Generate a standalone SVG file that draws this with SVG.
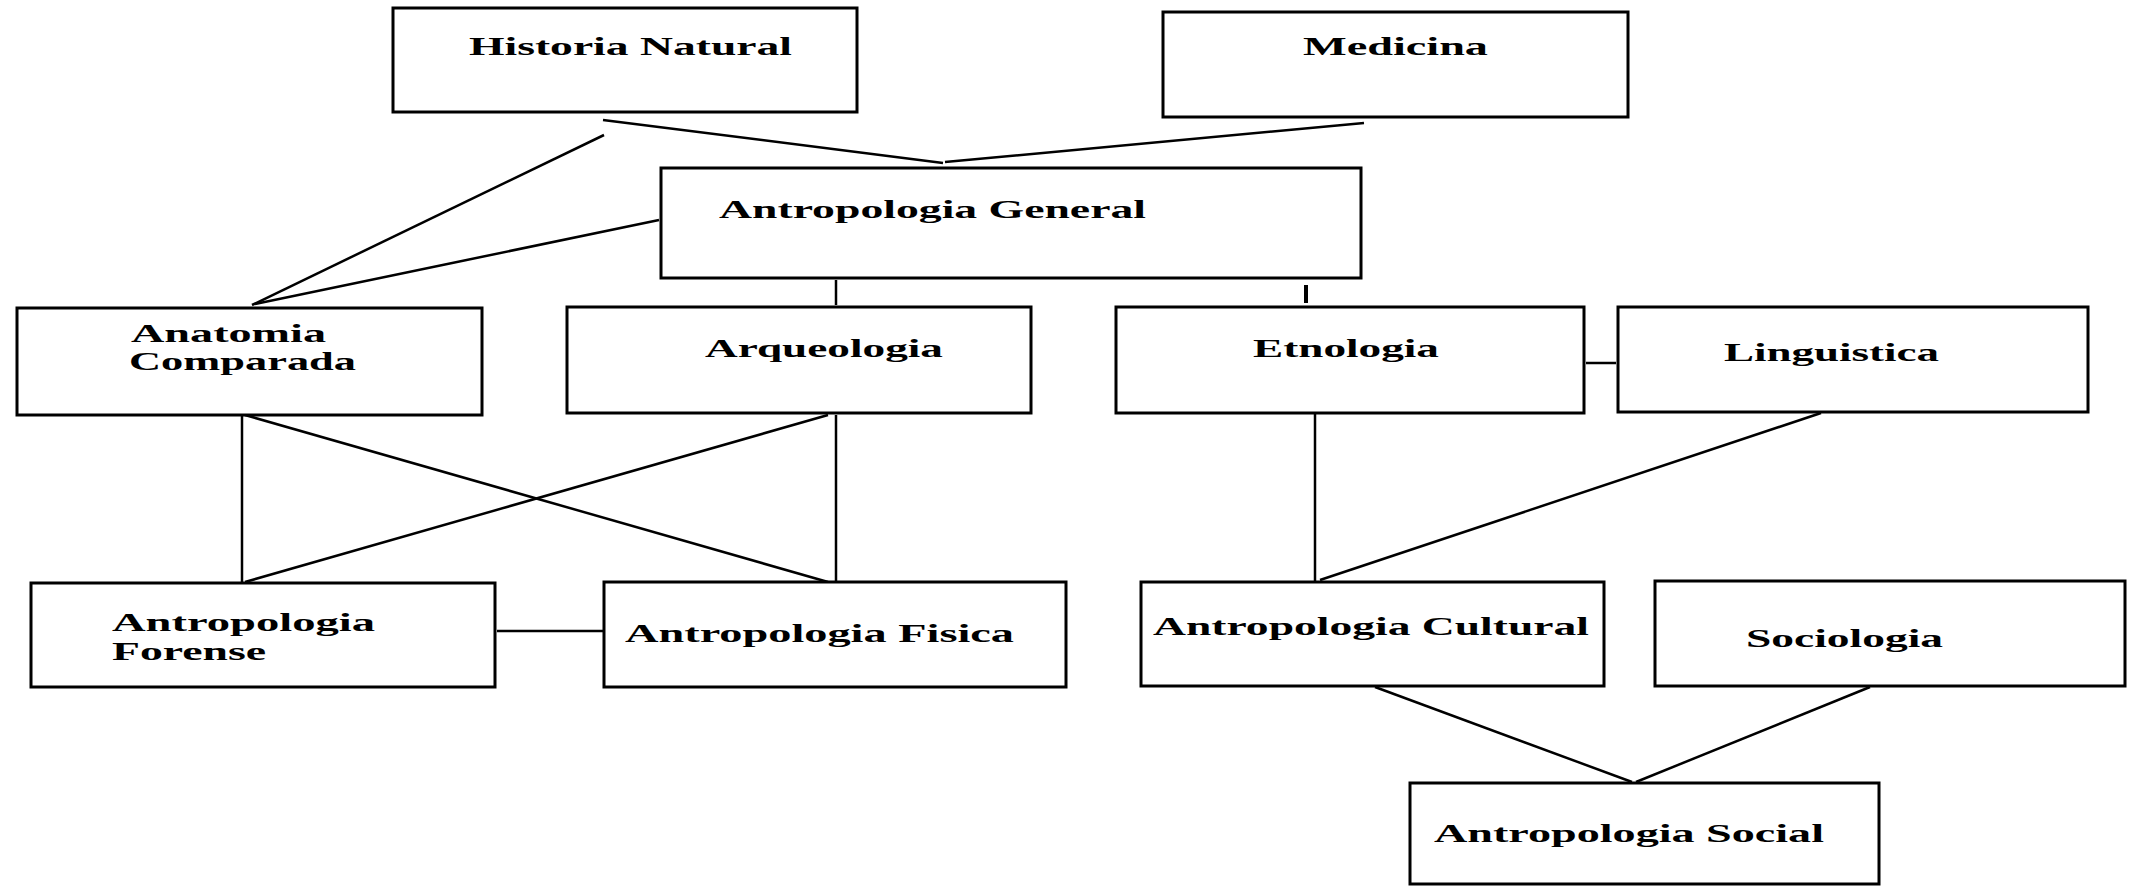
<svg xmlns="http://www.w3.org/2000/svg" width="2136" height="887" viewBox="0 0 2136 887">
<style>
.box{fill:#fff;stroke:#000;stroke-width:3}
.lbl{font-family:"Liberation Serif","Times New Roman",serif;font-size:26px;font-weight:bold;fill:#000}
.con line{stroke:#000;stroke-width:2.5;stroke-linecap:butt}
</style>
<rect width="2136" height="887" fill="#fff"/>
<g class="con" id="connectors">
<line x1="604" y1="135" x2="252" y2="305"/>
<line x1="603" y1="120" x2="943" y2="163"/>
<line x1="1364" y1="123" x2="945" y2="162"/>
<line x1="659" y1="220" x2="255" y2="304"/>
<line x1="836" y1="280" x2="836" y2="305"/>
<line x1="1306" y1="285" x2="1306" y2="303" style="stroke-width:4"/>
<line x1="1586" y1="363" x2="1616" y2="363"/>
<line x1="242" y1="415" x2="242" y2="582"/>
<line x1="245" y1="415" x2="828" y2="582"/>
<line x1="828" y1="415" x2="245" y2="582"/>
<line x1="836" y1="415" x2="836" y2="582"/>
<line x1="497" y1="631" x2="604" y2="631"/>
<line x1="1315" y1="413" x2="1315" y2="582"/>
<line x1="1821" y1="413" x2="1320" y2="580"/>
<line x1="1375" y1="687" x2="1632" y2="782"/>
<line x1="1870" y1="687" x2="1636" y2="782"/>
</g>
<g id="historia-natural"><rect class="box" x="393" y="8" width="464" height="104"/><text class="lbl" x="469" y="55" textLength="323" lengthAdjust="spacingAndGlyphs">Historia Natural</text></g>
<g id="medicina"><rect class="box" x="1163" y="12" width="465" height="105"/><text class="lbl" x="1303" y="55" textLength="185" lengthAdjust="spacingAndGlyphs">Medicina</text></g>
<g id="antropologia-general"><rect class="box" x="661" y="168" width="700" height="110"/><text class="lbl" x="719" y="218" textLength="427" lengthAdjust="spacingAndGlyphs">Antropologia General</text></g>
<g id="anatomia-comparada"><rect class="box" x="17" y="308" width="465" height="107"/><text class="lbl" x="131" y="342" textLength="195" lengthAdjust="spacingAndGlyphs">Anatomia</text><text class="lbl" x="129" y="370" textLength="227" lengthAdjust="spacingAndGlyphs">Comparada</text></g>
<g id="arqueologia"><rect class="box" x="567" y="307" width="464" height="106"/><text class="lbl" x="705" y="357" textLength="238" lengthAdjust="spacingAndGlyphs">Arqueologia</text></g>
<g id="etnologia"><rect class="box" x="1116" y="307" width="468" height="106"/><text class="lbl" x="1253" y="357" textLength="186" lengthAdjust="spacingAndGlyphs">Etnologia</text></g>
<g id="linguistica"><rect class="box" x="1618" y="307" width="470" height="105"/><text class="lbl" x="1724" y="361" textLength="215" lengthAdjust="spacingAndGlyphs">Linguistica</text></g>
<g id="antropologia-forense"><rect class="box" x="31" y="583" width="464" height="104"/><text class="lbl" x="112" y="631" textLength="263" lengthAdjust="spacingAndGlyphs">Antropologia</text><text class="lbl" x="112" y="660" textLength="154" lengthAdjust="spacingAndGlyphs">Forense</text></g>
<g id="antropologia-fisica"><rect class="box" x="604" y="582" width="462" height="105"/><text class="lbl" x="625" y="642" textLength="389" lengthAdjust="spacingAndGlyphs">Antropologia Fisica</text></g>
<g id="antropologia-cultural"><rect class="box" x="1141" y="582" width="463" height="104"/><text class="lbl" x="1153" y="635" textLength="436" lengthAdjust="spacingAndGlyphs">Antropologia Cultural</text></g>
<g id="sociologia"><rect class="box" x="1655" y="581" width="470" height="105"/><text class="lbl" x="1746" y="647" textLength="197" lengthAdjust="spacingAndGlyphs">Sociologia</text></g>
<g id="antropologia-social"><rect class="box" x="1410" y="783" width="469" height="101"/><text class="lbl" x="1434" y="842" textLength="390" lengthAdjust="spacingAndGlyphs">Antropologia Social</text></g>
</svg>
